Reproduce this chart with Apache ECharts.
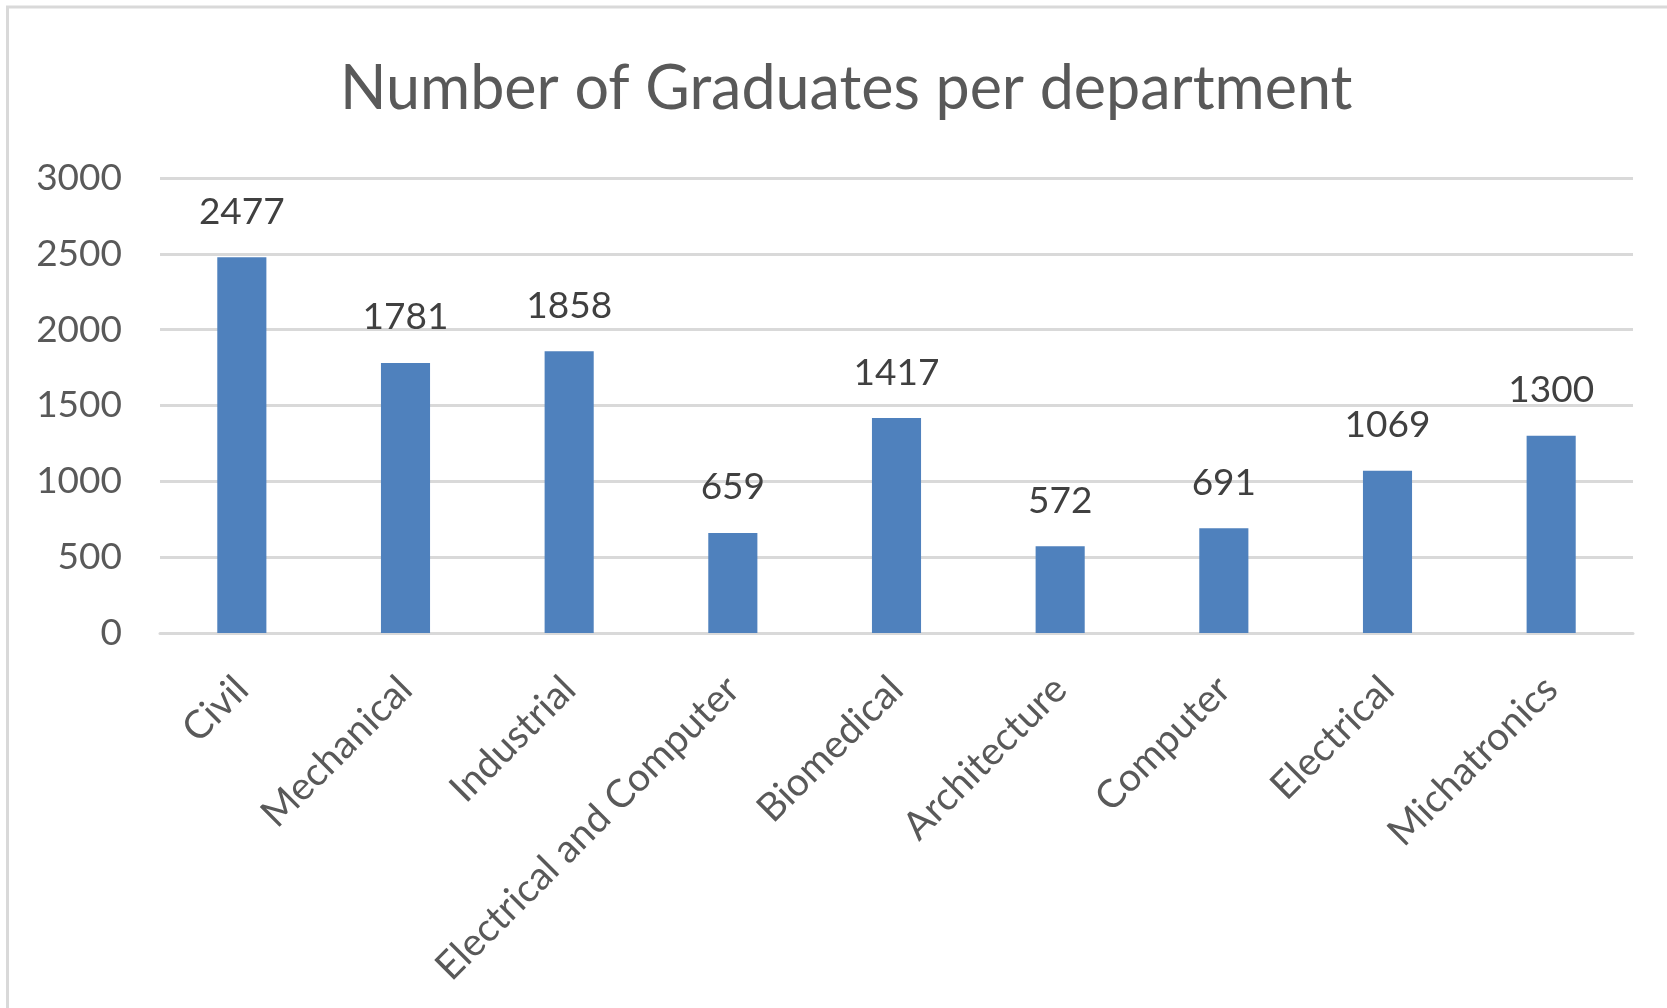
<!DOCTYPE html>
<html>
<head>
<meta charset="utf-8">
<script src="https://cdn.jsdelivr.net/npm/echarts@6/dist/echarts.min.js"></script>
<style>
    html, body { margin: 0; padding: 0; background: #fff; }
    #bar_basic { width: 1667px; height: 1008px; }
</style>
</head>
<body>
<div id="bar_basic"></div>
<script>
// Data
var departments = ['Civil', 'Mechanical', 'Industrial', 'Electrical and Computer', 'Biomedical', 'Architecture', 'Computer', 'Electrical', 'Michatronics'];
var graduates = [2477, 1781, 1858, 659, 1417, 572, 691, 1069, 1300];
var yTicks = [0, 500, 1000, 1500, 2000, 2500, 3000];

var bar_basic_element = document.getElementById('bar_basic');
var bar_basic = echarts.init(bar_basic_element);

bar_basic.setOption({

    // Global text styles
    textStyle: {
        fontFamily: 'Lato, "Open Sans", sans-serif'
    },

    animation: false,

    // Outer frame (right and bottom edges fall outside the picture)
    graphic: [{
        type: 'rect',
        shape: { x: 7.5, y: 7, width: 2000, height: 2000 },
        style: { fill: 'none', stroke: '#d9d9d9', lineWidth: 3 }
    }],

    // Title
    title: {
        text: 'Number of Graduates per department',
        left: 335,
        top: 54,
        textStyle: {
            fontSize: 61,
            fontWeight: 'normal',
            color: '#595959'
        }
    },

    // Setup grid
    grid: {
        left: 160,
        right: 34,
        top: 178,
        bottom: 375
    },

    // Horizontal axis
    xAxis: {
        type: 'category',
        data: departments,
        axisLine: {
            lineStyle: { color: '#d9d9d9', width: 3 }
        },
        axisTick: { show: false },
        axisLabel: {
            rotate: 45,
            margin: 50,
            interval: 0,
            fontSize: 39,
            color: '#595959'
        }
    },

    // Vertical axis
    yAxis: {
        type: 'value',
        min: yTicks[0],
        max: yTicks[yTicks.length - 1],
        interval: yTicks[1] - yTicks[0],
        axisLine: { show: false },
        axisTick: { show: false },
        axisLabel: {
            fontSize: 37,
            color: '#595959',
            margin: 38,
            formatter: function (v) { return String(v); }
        },
        splitLine: {
            lineStyle: { color: '#d9d9d9', width: 3 }
        }
    },

    // Add series
    series: [{
        name: 'Graduates',
        type: 'bar',
        barWidth: '30%',
        itemStyle: { color: '#4f81bd' },
        label: {
            show: true,
            position: 'top',
            distance: 27,
            fontSize: 37,
            color: '#404040'
        },
        data: graduates
    }]
});
</script>
</body>
</html>
